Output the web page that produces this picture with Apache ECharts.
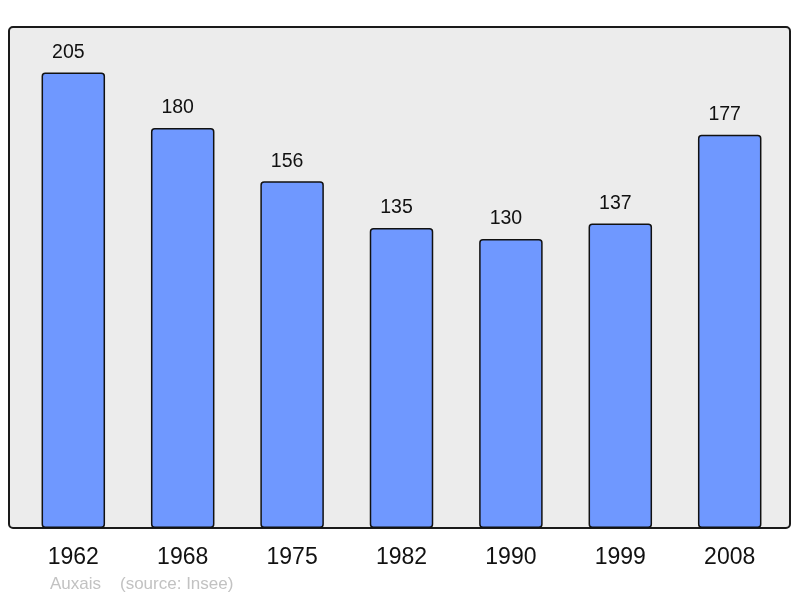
<!DOCTYPE html>
<html>
<head>
<meta charset="utf-8">
<script src="https://cdn.jsdelivr.net/npm/echarts@6/dist/echarts.min.js"></script>
<style>
html,body{margin:0;padding:0;background:#fff;}
#chart{width:800px;height:598px;}
</style>
</head>
<body>
<div id="chart"></div>
<script>
const years = ['1962','1968','1975','1982','1990','1999','2008'];
const population = [205,180,156,135,130,137,177];
const commune = 'Auxais';
const sourceText = '(source: Insee)';

const chart = echarts.init(document.getElementById('chart'), null, {renderer:'canvas'});
const FONT = "'Liberation Sans', Arial, sans-serif";
chart.setOption({
  animation:false,
  backgroundColor:'#ffffff',
  grid:{left:18.6, right:15.6, top:28, bottom:70},
  graphic:[
    {type:'rect', z:-10, shape:{x:9, y:27, width:781, height:501, r:4},
     style:{fill:'#ececec', stroke:'#1a1a1a', lineWidth:2}},
    {type:'text', left:50, top:576, style:{text:commune, fill:'#c2c2c2', font:'17px '+FONT}},
    {type:'text', left:120, top:576, style:{text:sourceText, fill:'#c2c2c2', font:'17px '+FONT}}
  ],
  xAxis:{
    type:'category', data:years,
    axisLine:{show:false}, axisTick:{show:false},
    axisLabel:{color:'#111', fontSize:23, fontFamily:FONT, margin:18}
  },
  yAxis:{
    type:'value', min:0, max:225, show:false,
    splitLine:{show:false}
  },
  series:[{
    type:'bar', data:population, barWidth:63.5,
    itemStyle:{color:'#6f98ff', borderColor:'#111', borderWidth:1.5, borderRadius:3},
    label:{show:true, position:'top', distance:10, offset:[-5,0], color:'#111', fontSize:19.5, fontFamily:FONT}
  }]
});
</script>
</body>
</html>
